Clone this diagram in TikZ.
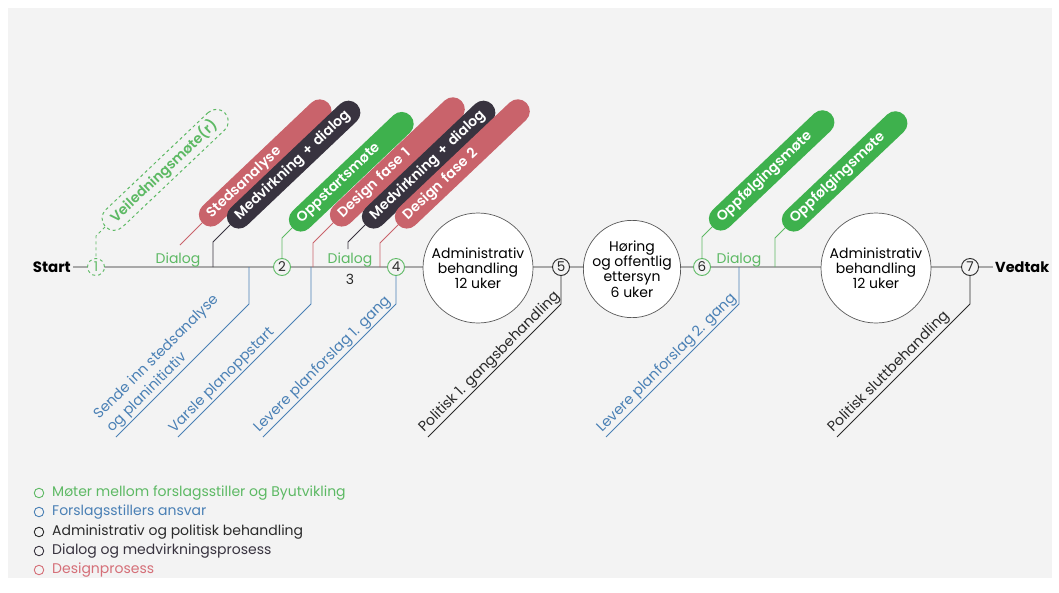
\documentclass[tikz,border=0pt]{standalone}
\usepackage{fontspec}
\setmainfont{Poppins}
\IfFontExistsTF{Poppins SemiBold}{\newfontfamily\semifont{Poppins SemiBold}}{\newcommand\semifont{\bfseries}}
\definecolor{bg}{HTML}{F3F3F3}
\definecolor{gfill}{HTML}{3EB14D}
\definecolor{gtext}{HTML}{5DB964}
\definecolor{rfill}{HTML}{C9636B}
\definecolor{rtext}{HTML}{D56F78}
\definecolor{dfill}{HTML}{38333F}
\definecolor{bblue}{HTML}{4A80B5}
\definecolor{dtext}{HTML}{2A2A2A}
\definecolor{lgray}{HTML}{A8A8A8}
\begin{document}
\begin{tikzpicture}[x=1pt,y=-1pt,
  txt/.style={font=\fontsize{14}{15.5}\selectfont, inner sep=0pt},
  pill/.style={rounded corners=12pt, minimum height=24pt, inner xsep=10pt, inner ysep=0pt,
    text=white, font=\semifont\fontsize{14}{16}\selectfont, rotate=43.5, anchor=west, align=left},
  numc/.style={circle, minimum size=17pt, inner sep=0pt, fill=bg, line width=0.9pt,
    font=\fontsize{13.5}{13.5}\selectfont},
  bigc/.style={circle, fill=white, draw=black!65, line width=0.7pt, inner sep=0pt,
    align=center, font=\fontsize{14}{15.2}\selectfont},
  conn/.style={line width=0.9pt},
  under/.style={rotate=45, anchor=south west, inner xsep=0pt, inner ysep=1.5pt, align=left,
    font=\fontsize{14.3}{18.5}\selectfont},
  legring/.style={circle, draw, line width=0.9pt, minimum size=9.5pt, inner sep=0pt},
  legtxt/.style={anchor=west, inner sep=0pt, font=\fontsize{14}{16}\selectfont}]
\useasboundingbox (0,0) rectangle (1059,592);
\fill[white] (0,0) rectangle (1059,592);
\fill[bg] (8,8) rectangle (1052,578);

% timeline ends and main line
\node[anchor=east, inner sep=2pt, font=\bfseries\fontsize{15}{15}\selectfont] (start) at (73,267) {Start};
\node[anchor=west, inner sep=2pt, font=\bfseries\fontsize{14.5}{15}\selectfont] (vedtak) at (993,267) {Vedtak};
\draw[lgray, line width=1.4pt] (start.east) -- (vedtak.west);

% numbered milestones
\node[numc, draw=gtext, dashed, text=gtext] (n1) at (96,267) {1};
\node[numc, draw=gtext, text=dtext] (n2) at (282,267) {2};
\node[numc, draw=gtext, text=dtext] (n4) at (396,267) {4};
\node[numc, draw=dtext, text=dtext] (n5) at (561,267) {5};
\node[numc, draw=gtext, text=dtext] (n6) at (702,267) {6};
\node[numc, draw=dtext, text=dtext] (n7) at (970,267) {7};

% processing stages
\node[bigc, minimum size=110pt] (adm1) at (478,268) {Administrativ\\behandling\\12 uker};
\node[bigc, minimum size=92pt] (hor) at (632,269) {Høring\\og offentlig\\ettersyn\\6 uker};
\node[bigc, minimum size=110pt] (adm2) at (876,268) {Administrativ\\behandling\\12 uker};

% dialog labels on the line
\node[txt, text=gtext, anchor=base] (dia1) at (178,263) {Dialog};
\node[txt, text=gtext, anchor=base] (dia2) at (350,263) {Dialog};
\node[txt, text=gtext, anchor=base] (dia3) at (739,263) {Dialog};
\node[txt, text=dtext, anchor=base] (three) at (350,284) {3};

% activity pills
\node[pill, draw=gtext, dashed, line width=1pt, text=gtext, text width=145pt] (veil) at (105,227) {Veiledningsmøte(r)};
\node[pill, fill=rfill, text width=154pt] (sted) at (202,223) {Stedsanalyse};
\node[pill, fill=dfill, text width=155pt] (med1) at (230,225) {Medvirkning + dialog};
\node[pill, fill=gfill, text width=143pt] (opp) at (292,228) {Oppstartsmøte};
\node[pill, fill=rfill, text width=157pt] (des1) at (333,223) {Design fase 1};
\node[pill, fill=dfill, text width=155pt] (med2) at (365,225) {Medvirkning + dialog};
\node[pill, fill=rfill, text width=157pt] (des2) at (398,225) {Design fase 2};
\node[pill, fill=gfill, text width=144pt] (oppf1) at (712,227) {Oppfølgingsmøte};
\node[pill, fill=gfill, text width=144pt] (oppf2) at (785,228) {Oppfølgingsmøte};

% pill connectors
\coordinate (k1) at (213,267);
\coordinate (k2) at (313,267);
\coordinate (k3) at (380,267);
\coordinate (k4) at (775,267);
\draw[conn, gtext, dashed] (veil.west) -- ++(-9,9) -- (n1.north);
\draw[conn, rfill] (sted.west) -- ++(-22,22);
\draw[conn, dfill] (med1.west) -- ++(-17,17) -- (k1);
\draw[conn, gtext] (opp.west) -- ++(-10,10) -- (n2.north);
\draw[conn, rfill] (des1.west) -- ++(-20,20) -- (k2);
\draw[conn, dfill] (med2.west) -- ++(-17,17) -- ++(0,7);
\draw[conn, rfill] (des2.west) -- ++(-18,18) -- (k3);
\draw[conn, gtext] (oppf1.west) -- ++(-10,10) -- (n6.north);
\draw[conn, gtext] (oppf2.west) -- ++(-10,10) -- (k4);

% submissions and decisions below the line
\coordinate (b1) at (249,267);
\coordinate (b2) at (311,267);
\coordinate (b3) at (739,267);
\draw[conn, bblue] (b1) -- (249,304) -- ++(-133,133) coordinate (u1);
\draw[conn, bblue] (b2) -- (311,304) -- ++(-133,133) coordinate (u2);
\draw[conn, bblue] (n4.south) -- (396,304) -- ++(-133,133) coordinate (u3);
\draw[conn, dtext] (n5.south) -- (561,304) -- ++(-133,133) coordinate (u4);
\draw[conn, bblue] (b3) -- (739,304) -- ++(-133,133) coordinate (u5);
\draw[conn, dtext] (n7.south) -- (970,304) -- ++(-133,133) coordinate (u6);
\node[under, text=bblue] (l1) at (u1) {Sende inn stedsanalyse\\og planinitiativ};
\node[under, text=bblue] (l2) at (u2) {Varsle planoppstart};
\node[under, text=bblue] (l3) at (u3) {Levere planforslag 1. gang};
\node[under, text=dtext] (l4) at (u4) {Politisk 1. gangsbehandling};
\node[under, text=bblue] (l5) at (u5) {Levere planforslag 2. gang};
\node[under, text=dtext] (l6) at (u6) {Politisk sluttbehandling};

% legend
\node[legring, draw=gtext] (r1) at (39,493) {};
\node[legring, draw=bblue] (r2) at (39,512) {};
\node[legring, draw=dtext] (r3) at (39,532) {};
\node[legring, draw=dfill] (r4) at (39,551) {};
\node[legring, draw=rtext] (r5) at (39,570) {};
\node[legtxt, text=gtext] (t1) at (52,493) {Møter mellom forslagsstiller og Byutvikling};
\node[legtxt, text=bblue] (t2) at (52,512) {Forslagsstillers ansvar};
\node[legtxt, text=dtext] (t3) at (52,532) {Administrativ og politisk behandling};
\node[legtxt, text=dfill] (t4) at (52,551) {Dialog og medvirkningsprosess};
\node[legtxt, text=rtext] (t5) at (52,570) {Designprosess};
\end{tikzpicture}
\end{document}
